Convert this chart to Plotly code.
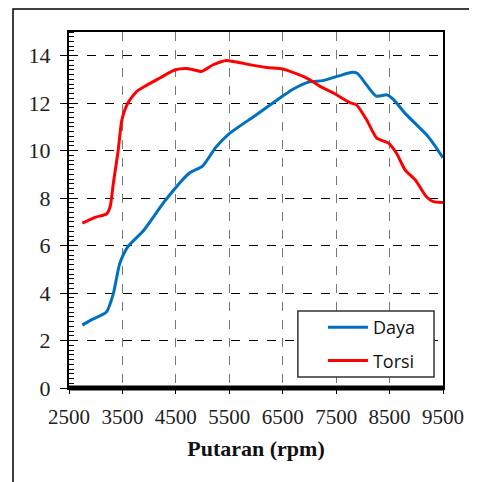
import plotly.graph_objects as go

rpm_daya = [2750, 2900, 3200, 3330, 3450, 3600, 3900, 4300, 4750, 5000, 5250, 5500, 6000, 6500, 6700, 7000, 7250, 7550, 7800, 7900, 8250, 8450, 8575, 8800, 9200, 9320, 9500]
daya = [2.65, 2.85, 3.2, 3.98, 5.25, 5.95, 6.65, 7.9, 9.05, 9.35, 10.15, 10.72, 11.5, 12.3, 12.6, 12.9, 12.95, 13.15, 13.3, 13.25, 12.3, 12.35, 12.15, 11.55, 10.65, 10.3, 9.7]

rpm_torsi = [2750, 3000, 3200, 3270, 3330, 3420, 3490, 3600, 3770, 3950, 4200, 4480, 4700, 4830, 4980, 5200, 5450, 5700, 6200, 6500, 6950, 7200, 7450, 7750, 7880, 8070, 8260, 8480, 8630, 8790, 8980, 9190, 9320, 9500]
torsi = [6.95, 7.2, 7.33, 7.64, 8.63, 10.0, 11.3, 12.0, 12.5, 12.75, 13.06, 13.4, 13.46, 13.41, 13.34, 13.62, 13.8, 13.7, 13.5, 13.44, 13.06, 12.71, 12.43, 12.03, 11.93, 11.3, 10.53, 10.32, 9.89, 9.19, 8.77, 8.06, 7.85, 7.82]

x_ticks = [2500, 3500, 4500, 5500, 6500, 7500, 8500, 9500]
y_ticks = [0, 2, 4, 6, 8, 10, 12, 14]

fig = go.Figure()
fig.add_trace(go.Scatter(x=rpm_daya, y=daya, name="Daya", mode="lines", legendgroup="a",
                         line=dict(color="#0070C0", width=3, shape="spline", smoothing=0.6)))
fig.add_trace(go.Scatter(x=rpm_torsi, y=torsi, name="Torsi", mode="lines", legendgroup="b",
                         line=dict(color="#FF0000", width=3, shape="spline", smoothing=0.6)))

serif = "Liberation Serif, Times New Roman, serif"
fig.update_layout(
    width=477, height=482,
    margin=dict(l=61, r=42, t=24, b=102),
    paper_bgcolor="white", plot_bgcolor="white",
    showlegend=True,
    legend=dict(x=0.679, y=0.222, xanchor="left", yanchor="top",
                borderwidth=0, bgcolor="rgba(0,0,0,0)", tracegroupgap=7,
                font=dict(family="Open Sans, Liberation Sans, sans-serif", size=18, color="#111"),
                itemwidth=40),
    xaxis=dict(range=[2500, 9500], tickvals=x_ticks, ticktext=[str(v) for v in x_ticks],
               showgrid=True, gridcolor="#777777", griddash="dash", gridwidth=1,
               showline=True, linecolor="black", linewidth=2, mirror=True,
               ticks="outside", ticklen=4, tickcolor="black", ticklabelstandoff=5,
               tickfont=dict(family=serif, size=21, color="#222"),
               title=dict(text="<b>Putaran (rpm)</b>", font=dict(family=serif, size=22, color="#111"), standoff=12),
               zeroline=False),
    yaxis=dict(range=[0, 15], tickvals=y_ticks, ticktext=[str(v) for v in y_ticks],
               showgrid=True, gridcolor="black", griddash="dash", gridwidth=1,
               showline=True, linecolor="black", linewidth=2, mirror=True,
               ticks="outside", ticklen=7, tickcolor="black", ticklabelstandoff=5,
               tickfont=dict(family=serif, size=22, color="#222"),
               minor=dict(dtick=0.2, ticks="inside", ticklen=5, tickcolor="black", showgrid=False),
               zeroline=False),
)

# legend frame
fig.add_shape(type="rect", xref="paper", yref="paper", x0=0.612, x1=0.976, y0=0.031, y1=0.2163,
              line=dict(color="#333333", width=1.5), fillcolor="white", layer="above")
# thick bottom axis
fig.add_shape(type="line", xref="paper", yref="paper", x0=0, x1=1, y0=0, y1=0,
              line=dict(color="black", width=5))
# outer frame (left and top borders)
fig.add_shape(type="path", xref="paper", yref="paper",
              path="M -0.1497 -0.5 L -0.1497 1.0646 L 2 1.0646",
              line=dict(color="black", width=1.5))

fig.write_html("out.html")
